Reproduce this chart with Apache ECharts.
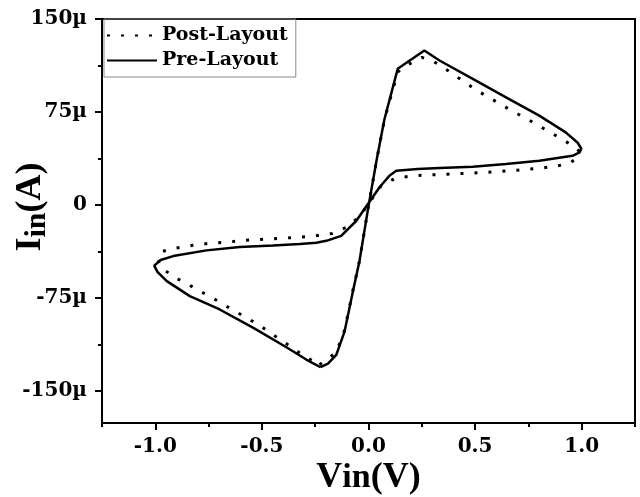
<!DOCTYPE html>
<html>
<head>
<meta charset="utf-8">
<script src="https://cdn.jsdelivr.net/npm/echarts@6/dist/echarts.min.js"></script>
<style>html,body{margin:0;padding:0;background:#fff;}#c{width:640px;height:497px;}</style>
</head>
<body>
<div id="c"></div>
<script>
// Pre-Layout (solid) loop: Vin (V) and Iin (µA)
const preV = [-0.225, -0.19, -0.151, -0.112, -0.073, -0.042, 0, 0.039, 0.075, 0.137, 0.262, 0.333, 0.489, 0.645, 0.801, 0.925, 0.98, 0.998, 0.99, 0.957, 0.801, 0.645, 0.489, 0.333, 0.23, 0.13, 0.098, 0.051, -0.058, -0.128, -0.198, -0.245, -0.323, -0.448, -0.604, -0.76, -0.916, -0.975, -1.005, -0.99, -0.946, -0.838, -0.698, -0.54, -0.385, -0.292, -0.225];
const preI = [-131, -128, -121, -102, -69.6, -45, -1, 37, 69.3, 109.8, 124.6, 116.5, 101.7, 86.8, 72, 58.5, 50.4, 45.5, 42.3, 39.6, 35.6, 32.9, 30.7, 29.7, 29, 27.5, 23.5, 14, -13, -25, -29, -30.5, -31.5, -32.7, -34, -36.7, -41.3, -44.5, -49, -54, -61.5, -73.6, -84.4, -99.3, -114.9, -124.8, -131];
// Post-Layout (dotted) loop
const postV = [-0.23, -0.151, -0.112, -0.073, -0.042, 0, 0.039, 0.075, 0.137, 0.161, 0.25, 0.306, 0.372, 0.504, 0.645, 0.785, 0.925, 0.975, 0.992, 0.975, 0.941, 0.863, 0.699, 0.535, 0.372, 0.208, 0.127, 0.059, -0.034, -0.089, -0.17, -0.253, -0.334, -0.417, -0.494, -0.581, -0.659, -0.745, -0.823, -0.909, -0.965, -0.99, -0.975, -0.92, -0.846, -0.775, -0.705, -0.635, -0.565, -0.498, -0.433, -0.367, -0.303, -0.26, -0.23];
const postI = [-129, -119, -101, -69, -45, -1, 37, 69, 107, 111, 119, 115.7, 108.4, 92.8, 78.7, 65.3, 51.2, 46, 42.3, 37.5, 33.4, 30.7, 28, 26.1, 24.8, 23.5, 21.6, 15.4, -7.5, -17, -23, -25, -26.2, -27, -27.8, -28.6, -30, -31, -32.6, -35, -37.5, -43, -50, -57.4, -64.2, -71, -77.7, -85, -91.7, -98.7, -106.5, -114, -122, -126, -129];

const seriesNames = ['Post-Layout', 'Pre-Layout'];
const xMajor = [-1, -0.5, 0, 0.5, 1];
const xMinor = [-1.25, -0.75, -0.25, 0.25, 0.75, 1.25];
const yMajor = [-150, -75, 0, 75, 150];
const yMinor = [-112.5, -37.5, 37.5, 112.5];

const zip = (a, b) => a.map((v, i) => [v, b[i]]);
const TICKFONT = '"DejaVu Serif", serif';
const NAMEFONT = '"Liberation Serif", "Times New Roman", serif';

const chart = echarts.init(document.getElementById('c'), null, {renderer: 'canvas'});
function tickAxis(min, max, values, len) {
  return {
    type: 'value', min: min, max: max,
    axisLine: {show: false, onZero: false},
    axisTick: {show: true, customValues: values, length: len, lineStyle: {color: '#000', width: 2}},
    axisLabel: {show: false},
    splitLine: {show: false}
  };
}
const xMajorAxis = Object.assign(tickAxis(-1.25, 1.25, xMajor, 7), {position: 'bottom'});
const xMinorAxis = Object.assign(tickAxis(-1.25, 1.25, xMinor, 4), {position: 'bottom'});
const yMajorAxis = Object.assign(tickAxis(-176, 150, yMajor, 7), {position: 'left'});
const yMinorAxis = Object.assign(tickAxis(-176, 150, yMinor, 4), {position: 'left'});

chart.setOption({
  animation: false,
  backgroundColor: '#fff',
  grid: {left: 102, right: 5, top: 19, bottom: 74, outerBoundsMode: 'none', containLabel: false,
         show: true, borderColor: '#000', borderWidth: 2, backgroundColor: 'transparent'},
  legend: {
    data: seriesNames,
    orient: 'vertical',
    left: 104, top: 19,
    itemWidth: 50, itemHeight: 20,
    itemGap: 6,
    padding: [7, 8, 7, 2],
    borderColor: '#888', borderWidth: 1,
    itemStyle: {color: 'transparent', borderWidth: 0, opacity: 0},
    textStyle: {fontFamily: TICKFONT, fontWeight: 'bold', fontSize: 19, color: '#000'}
  },
  xAxis: [{
    type: 'value', min: -1.25, max: 1.25, position: 'bottom',
    axisLine: {show: true, onZero: false, lineStyle: {color: '#000', width: 2}},
    axisTick: {show: false},
    axisLabel: {customValues: xMajor, formatter: v => v.toFixed(1), fontFamily: TICKFONT, fontWeight: 'bold', fontSize: 20, color: '#000', margin: 14},
    splitLine: {show: false},
    name: '{v|V}{s|in}{v|(V)}', nameLocation: 'middle', nameGap: 37, nameMoveOverlap: false,
    nameTextStyle: {rich: {v: {fontFamily: NAMEFONT, fontWeight: 'bold', fontSize: 36, color: '#000'}, s: {fontFamily: NAMEFONT, fontWeight: 'bold', fontSize: 34, color: '#000'}}}
  }, xMajorAxis, xMinorAxis],
  yAxis: [{
    type: 'value', min: -176, max: 150, position: 'left',
    axisLine: {show: true, onZero: false, lineStyle: {color: '#000', width: 2}},
    axisTick: {show: false},
    axisLabel: {customValues: yMajor, formatter: v => v === 0 ? '0' : v + 'µ', fontFamily: TICKFONT, fontWeight: 'bold', fontSize: 20, color: '#000', margin: 15},
    splitLine: {show: false},
    name: '{i|I}{s|in}{i|(A)}', nameLocation: 'middle', nameGap: 50, nameMoveOverlap: false,
    nameTextStyle: {padding: [0, 0, 0, 28], rich: {i: {fontFamily: NAMEFONT, fontWeight: 'bold', fontSize: 36, color: '#000', lineHeight: 42}, s: {fontFamily: NAMEFONT, fontWeight: 'bold', fontSize: 30, color: '#000', lineHeight: 34, verticalAlign: 'bottom'}}}
  }, yMajorAxis, yMinorAxis],
  series: [{
    name: seriesNames[0], type: 'line', xAxisIndex: 0, yAxisIndex: 0,
    data: zip(postV, postI), symbol: 'none', smooth: false,
    lineStyle: {color: '#000', width: 3, type: [3, 11]}, itemStyle: {color: '#000'}
  }, {
    name: seriesNames[1], type: 'line', xAxisIndex: 0, yAxisIndex: 0,
    data: zip(preV, preI), symbol: 'none', smooth: false,
    lineStyle: {color: '#000', width: 2.5, type: 'solid'}, itemStyle: {color: '#000'}
  }]
});
</script>
</body>
</html>
